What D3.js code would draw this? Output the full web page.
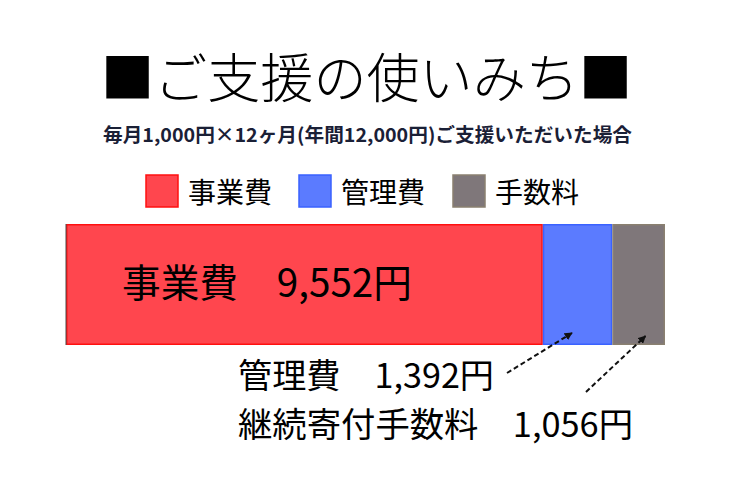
<!DOCTYPE html>
<html><head><meta charset="utf-8">
<script src="https://cdn.jsdelivr.net/npm/d3@7"></script>
<style>
html,body{margin:0;padding:0;background:#fff;}
svg{display:block;font-family:"Noto Sans CJK JP","Noto Sans",sans-serif;}
</style></head>
<body>
<svg id="c" width="736" height="481"></svg>
<script>
const title = "■ご支援の使いみち■";
const subtitle = "毎月1,000円×12ヶ月(年間12,000円)ご支援いただいた場合";
const categories = ["事業費", "管理費", "手数料"];
const values = [9552, 1392, 1056];
const fills = ["#ff464e", "#5b7bff", "#7f777a"];
const strokes = ["#ff1010", "#3a62ff", "#8a8070"];
const barLabel = "事業費　9,552円";
const noteLabels = ["管理費　1,392円", "継続寄付手数料　1,056円"];
const total = d3.sum(values);

const svg = d3.select("#c");

// title
svg.append("text").attr("x", 366.5).attr("y", 75)
  .attr("text-anchor", "middle").attr("dominant-baseline", "central")
  .attr("font-size", 53).attr("font-weight", 300).attr("fill", "#000")
  .attr("textLength", 531).attr("lengthAdjust", "spacingAndGlyphs")
  .text(title);

// subtitle
svg.append("text").attr("x", 367.5).attr("y", 133.5)
  .attr("text-anchor", "middle").attr("dominant-baseline", "central")
  .attr("font-size", 19).attr("font-weight", 700).attr("fill", "#1a2036")
  .attr("textLength", 529).attr("lengthAdjust", "spacingAndGlyphs")
  .text(subtitle);

// legend
const legendX = [145, 298, 452];
const lg = svg.append("g");
categories.forEach((c, i) => {
  lg.append("rect").attr("x", legendX[i] + 1).attr("y", 175)
    .attr("width", 32).attr("height", 32)
    .attr("fill", fills[i]).attr("stroke", strokes[i]).attr("stroke-width", 1.5);
  lg.append("text").attr("x", legendX[i] + 43).attr("y", 191)
    .attr("dominant-baseline", "central").attr("font-size", 28).attr("fill", "#000")
    .text(c);
});

// bar
const x = d3.scaleLinear().domain([0, total]).range([66, 665]);
const y = d3.scaleBand().domain(["support"]).range([224, 345]).padding(0);
const stackData = d3.stack().keys(categories)([Object.fromEntries(categories.map((c, i) => [c, values[i]]))]);

svg.append("g").selectAll("rect").data(stackData).join("rect")
  .attr("x", d => x(d[0][0]) + 0.75)
  .attr("y", y("support") + 0.75)
  .attr("width", d => x(d[0][1]) - x(d[0][0]) - 1.5)
  .attr("height", y.bandwidth() - 1.5)
  .attr("fill", (d, i) => fills[i])
  .attr("stroke", (d, i) => strokes[i])
  .attr("stroke-width", 1.5);

// left axis line
svg.append("line").attr("x1", x(0)).attr("x2", x(0))
  .attr("y1", y("support")).attr("y2", y("support") + y.bandwidth())
  .attr("stroke", "#4a4a4a").attr("stroke-width", 1);

// bar label
svg.append("text").attr("x", 122).attr("y", 280)
  .attr("dominant-baseline", "central").attr("font-size", 39).attr("fill", "#000")
  .attr("textLength", 290).attr("lengthAdjust", "spacingAndGlyphs")
  .text(barLabel);

// notes
svg.append("text").attr("x", 238).attr("y", 373)
  .attr("dominant-baseline", "central").attr("font-size", 34).attr("fill", "#000")
  .attr("textLength", 256).attr("lengthAdjust", "spacingAndGlyphs")
  .text(noteLabels[0]);
svg.append("text").attr("x", 238).attr("y", 422)
  .attr("dominant-baseline", "central").attr("font-size", 34).attr("fill", "#000")
  .attr("textLength", 395).attr("lengthAdjust", "spacingAndGlyphs")
  .text(noteLabels[1]);

// arrows
const defs = svg.append("defs");
defs.append("marker").attr("id", "ah").attr("viewBox", "0 0 10 10")
  .attr("refX", 9).attr("refY", 5).attr("markerWidth", 4).attr("markerHeight", 4)
  .attr("orient", "auto")
  .append("path").attr("d", "M0,0 L10,5 L0,10 Z").attr("fill", "#111");

const arrows = [
  {from: [507, 373], seg: 1, frac: 0.42, dy: 12},
  {from: [586, 392], seg: 2, frac: 0.63, dy: 9}
];
arrows.forEach(a => {
  const s = stackData[a.seg][0];
  const tx = x(s[0] + (s[1] - s[0]) * a.frac);
  const ty = y("support") + y.bandwidth() - a.dy;
  svg.append("line").attr("x1", a.from[0]).attr("y1", a.from[1])
    .attr("x2", tx).attr("y2", ty)
    .attr("stroke", "#111").attr("stroke-width", 2)
    .attr("stroke-dasharray", "5,3")
    .attr("marker-end", "url(#ah)");
});
</script>
</body></html>
